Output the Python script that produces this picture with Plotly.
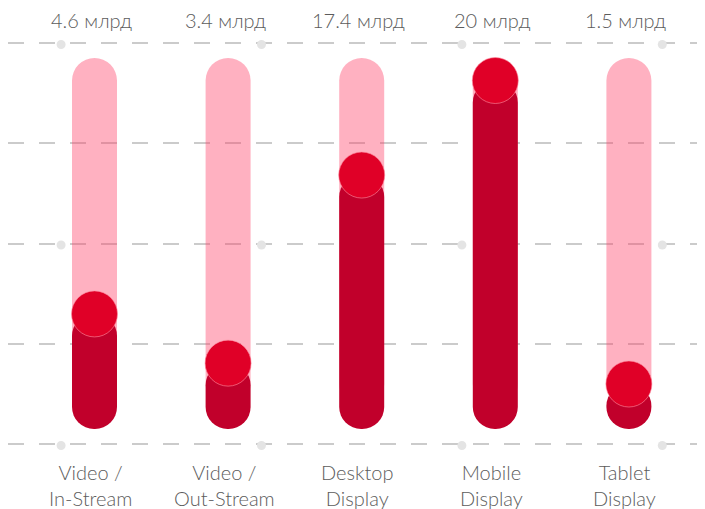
import plotly.graph_objects as go

# ---- data ----
categories = ["Video /<br>In-Stream", "Video /<br>Out-Stream", "Desktop<br>Display", "Mobile<br>Display", "Tablet<br>Display"]
value_labels = ["4.6 млрд", "3.4 млрд", "17.4 млрд", "20 млрд", "1.5 млрд"]
fill_pct = [28.4, 13.3, 71.0, 100.0, 6.9]   # fill level of each track, %

# ---- layout constants (page body has an 8px margin) ----
OFF = 8
W, H = 705 - OFF, 509 - OFF
PX_PER_UNIT = 3.26          # vertical px per 1 % of track
ZERO_PX = 406.5 - OFF       # pixel row of 0 %
CAP = 22.5 / PX_PER_UNIT    # rounded cap radius in data units
y_range = [-(H - ZERO_PX) / PX_PER_UNIT, ZERO_PX / PX_PER_UNIT]
L = 0
x_spacing = 133.6
first_center = 94.5 - OFF
x0 = -(first_center - L) / x_spacing
x_range = [x0, x0 + (W - L) / x_spacing]
bar_w = 45 / x_spacing
grid_vals = [-11.5 + 30.75 * k for k in range(5)]
dot_x = [-0.25, 1.25, 2.75, 4.25]
dot_rows = [grid_vals[0], grid_vals[2], grid_vals[4]]

idx = list(range(len(categories)))

PINK = "rgba(255,60,100,0.40)"
DARK = "#c1002b"
RED = "#e00027"
TEXT = "#5c5c5c"
FONT = "Lato, Inter, sans-serif"

fig = go.Figure()

# pink track (rounded top)
fig.add_trace(go.Bar(
    x=idx, y=[100 + CAP] * len(idx), base=[0] * len(idx), width=bar_w,
    marker=dict(color=PINK, line=dict(width=0), cornerradius="50%"),
    hoverinfo="skip", showlegend=False,
))
# dark filled part (from fill level down, rounded bottom)
fig.add_trace(go.Bar(
    x=idx, y=[-(v + CAP) for v in fill_pct], base=fill_pct, width=bar_w,
    marker=dict(color=DARK, line=dict(width=0), cornerradius="50%"),
    hoverinfo="skip", showlegend=False,
))
# knob circle
fig.add_trace(go.Scatter(
    x=idx, y=fill_pct, mode="markers",
    marker=dict(size=46, color=RED, line=dict(width=1, color="rgba(255,140,160,0.6)")),
    hoverinfo="skip", showlegend=False, cliponaxis=False,
))

# white mask so the dashed grid starts where the reference's does, with matching dash phase
mask_px = 13.5 - OFF
shapes = [
    dict(type="rect", xref="paper", yref="paper", x0=0, x1=mask_px / W, y0=0, y1=1,
         fillcolor="white", line=dict(width=0), layer="between"),
]
for yv in dot_rows:
    for xv in dot_x:
        shapes.append(dict(
            type="circle", xref="x", yref="y", xsizemode="pixel", ysizemode="pixel",
            xanchor=xv, yanchor=yv, x0=-4.5, x1=4.5, y0=-6, y1=3,
            fillcolor="#e4e4e4", line=dict(width=0), layer="between",
        ))

annotations = []
for i, lab in zip(idx, value_labels):
    annotations.append(dict(x=i, y=1 - (20 - OFF) / H, xref="x", yref="paper", text=lab, showarrow=False,
                            xshift=-3, yanchor="middle",
                            font=dict(family=FONT, size=20, color=TEXT, weight=300)))
for i, cat in zip(idx, categories):
    annotations.append(dict(x=i, y=1 - (485 - OFF) / H, xref="x", yref="paper", text=cat, showarrow=False,
                            xshift=-4, yanchor="middle",
                            font=dict(family=FONT, size=20, color=TEXT, weight=300)))

fig.update_layout(
    width=W, height=H,
    margin=dict(l=L, r=0, t=0, b=0),
    paper_bgcolor="white", plot_bgcolor="white",
    barmode="overlay",
    xaxis=dict(range=x_range, showgrid=False, zeroline=False, showticklabels=False,
               showline=False, fixedrange=True),
    yaxis=dict(range=y_range, tickvals=grid_vals, showticklabels=False, showgrid=True,
               gridcolor="#cbcbcb", gridwidth=1.5, griddash="16px,15px",
               zeroline=False, showline=False, fixedrange=True),
    shapes=shapes,
    annotations=annotations,
)

fig.write_html("out.html", config={"displayModeBar": False})
